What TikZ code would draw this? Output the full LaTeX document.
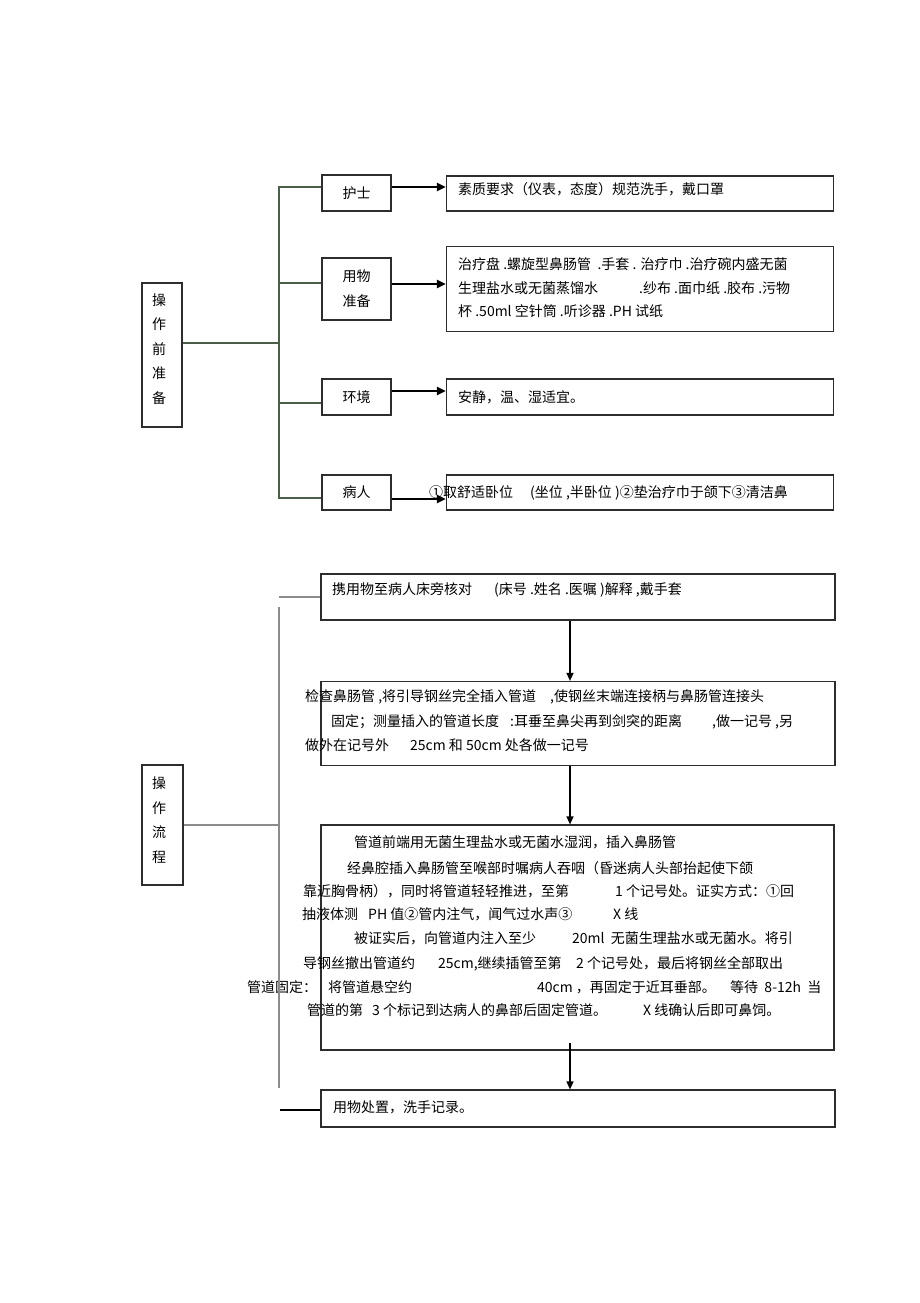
\documentclass[tikz,border=0pt]{standalone}
\usepackage{fontspec}
\setmainfont{Noto Sans CJK SC}
\usetikzlibrary{positioning,arrows.meta}
\definecolor{treeline}{RGB}{74,94,74}
\definecolor{flowline}{RGB}{140,140,140}
\definecolor{frame}{RGB}{45,45,45}

\begin{document}
\begin{tikzpicture}[x=1pt, y=-1pt,
    every node/.style={inner sep=0pt, font=\fontsize{14}{16}\selectfont},
    box/.style={draw=frame, line width=1.2pt},
    ln/.style={anchor=west, text height=11.5pt, text depth=2pt},
    vt/.style={align=center, font=\fontsize{14}{24.5}\selectfont},
    branch/.style={draw=treeline, line width=1.3pt},
    spine/.style={draw=flowline, line width=1.3pt},
    push/.style={-{Triangle[length=9pt, width=8pt]}, line width=2.2pt},
    stem/.style={-{Triangle[length=8pt, width=7pt]}, line width=1.4pt}]
    \useasboundingbox (0,0) rectangle (920,1303);

    % ---- 操作前准备 ----
    \node [box, minimum width=40pt, minimum height=144pt] (prep) at (162,355) {};
    \node [vt] (preptxt) at (159,349) {操\\作\\前\\准\\备};

    \node [box, minimum width=69pt, minimum height=36pt] (nurse) at (356.5,193) {护士};
    \node [box, minimum width=69pt, minimum height=62pt, vt, font=\fontsize{14}{25}\selectfont] (gear) at (356.5,289) {用物\\准备};
    \node [box, minimum width=69pt, minimum height=36pt] (env) at (356.5,397) {环境};
    \node [box, minimum width=69pt, minimum height=35pt] (patient) at (356.5,492.5) {病人};

    \node [box, minimum width=387pt, minimum height=35pt] (r1) at (640,193.5) {};
    \node [box, minimum width=387pt, minimum height=85pt] (r2) at (640,289) {};
    \node [box, minimum width=387pt, minimum height=36pt] (r3) at (640,397) {};
    \node [box, minimum width=387pt, minimum height=35pt] (r4) at (640,492.5) {};

    \node [ln] (r1a) at (458,190) {素质要求（仪表，态度）规范洗手，戴口罩};
    \node [ln] (r2a) at (458,265) {治疗盘 .螺旋型鼻肠管 \ .手套 . 治疗巾 .治疗碗内盛无菌};
    \node [ln] (r2b) at (458,289) {生理盐水或无菌蒸馏水};
    \node [ln] (r2c) at (639,289) {.纱布 .面巾纸 .胶布 .污物};
    \node [ln] (r2d) at (458,312) {杯 .50ml 空针筒 .听诊器 .PH 试纸};
    \node [ln] (r3a) at (458,398) {安静，温、湿适宜。};
    \node [ln] (r4a) at (429,493) {①取舒适卧位};
    \node [ln] (r4b) at (530,493) {(坐位 ,半卧位 )②垫治疗巾于颌下③清洁鼻};

    \coordinate (hub) at (279,343);
    \draw [branch] (prep.east |- hub) -- (hub);
    \draw [branch] ([yshift=6pt]nurse.west) -| ([yshift=-5.5pt]patient.west -| hub) -- ([yshift=-5.5pt]patient.west);
    \draw [branch] ([yshift=6pt]gear.west) -- ([yshift=6pt]gear.west -| hub);
    \draw [branch] ([yshift=-6pt]env.west) -- ([yshift=-6pt]env.west -| hub);

    \draw [push] ([yshift=6pt]nurse.east) -- ([yshift=6pt]nurse.east -| r1.west);
    \draw [push] ([yshift=5pt]gear.east) -- ([yshift=5pt]gear.east -| r2.west);
    \draw [push] ([yshift=6pt]env.east) -- ([yshift=6pt]env.east -| r3.west);
    \draw [push] ([yshift=-6.5pt]patient.east) -- ([yshift=-6.5pt]patient.east -| r4.west);

    % ---- 操作流程 ----
    \node [box, minimum width=41pt, minimum height=120pt] (proc) at (162.5,825) {};
    \node [vt] (proctxt) at (159,820) {操\\作\\流\\程};

    \node [box, minimum width=514pt, minimum height=46pt] (s1) at (578,597) {};
    \node [box, minimum width=514pt, minimum height=84pt] (s2) at (578,723.5) {};
    \node [box, minimum width=513pt, minimum height=225pt] (s3) at (577.5,937.5) {};
    \node [box, minimum width=514pt, minimum height=37pt] (s4) at (578,1108.5) {};

    \node [ln] (s1a) at (332,590) {携用物至病人床旁核对};
    \node [ln] (s1b) at (494,590) {(床号 .姓名 .医嘱 )解释 ,戴手套};

    \node [ln] (s2a) at (305,697) {检查鼻肠管 ,将引导钢丝完全插入管道};
    \node [ln] (s2b) at (550,697) {,使钢丝末端连接柄与鼻肠管连接头};
    \node [ln] (s2c) at (331,722) {固定；测量插入的管道长度};
    \node [ln] (s2d) at (510,722) {:耳垂至鼻尖再到剑突的距离};
    \node [ln] (s2e) at (712,722) {,做一记号 ,另};
    \node [ln] (s2f) at (305,746) {做外在记号外};
    \node [ln] (s2g) at (410,746) {25cm 和 50cm 处各做一记号};

    \node [ln] (s3a) at (354,843) {管道前端用无菌生理盐水或无菌水湿润，插入鼻肠管};
    \node [ln] (s3b) at (347,869) {经鼻腔插入鼻肠管至喉部时嘱病人吞咽（昏迷病人头部抬起使下颌};
    \node [ln] (s3c) at (303,892) {靠近胸骨柄），同时将管道轻轻推进，至第};
    \node [ln] (s3d) at (615,892) {1 个记号处。证实方式：①回};
    \node [ln] (s3e) at (302,915) {抽液体测};
    \node [ln] (s3f) at (368,915) {PH 值②管内注气，闻气过水声③};
    \node [ln] (s3g) at (613,915) {X 线};
    \node [ln] (s3h) at (354,939) {被证实后，向管道内注入至少};
    \node [ln] (s3i) at (572,939) {20ml \ 无菌生理盐水或无菌水。将引};
    \node [ln] (s3j) at (303,964) {导钢丝撤出管道约};
    \node [ln] (s3k) at (438,964) {25cm,继续插管至第};
    \node [ln] (s3l) at (576,964) {2 个记号处，最后将钢丝全部取出};
    \node [ln] (s3m) at (247,988) {管道固定：};
    \node [ln] (s3n) at (328,988) {将管道悬空约};
    \node [ln] (s3o) at (537,988) {40cm ，再固定于近耳垂部。};
    \node [ln] (s3p) at (730,988) {等待 \ 8-12h \ 当};
    \node [ln] (s3q) at (307,1011) {管道的第};
    \node [ln] (s3r) at (372,1011) {3 个标记到达病人的鼻部后固定管道。};
    \node [ln] (s3s) at (643,1011) {X 线确认后即可鼻饲。};

    \node [ln] (s4a) at (333,1108) {用物处置，洗手记录。};

    \coordinate (spinetop) at (279,607);
    \coordinate (spinebot) at (279,1088);
    \coordinate (mid) at (570,0);
    \coordinate (tail) at (280,1110);
    \draw [spine] (proc.east) -- (proc.east -| spinetop);
    \draw [spine] (s1.west) -- (s1.west -| spinetop);
    \draw [spine] (spinetop) -- (spinebot);
    \draw [line width=1.3pt] (tail) -- (tail -| s4.west);

    \draw [stem] (s1.south -| mid) -- (s2.north -| mid);
    \draw [stem] (s2.south -| mid) -- (s3.north -| mid);
    \draw [stem] ([yshift=8pt]s3.south -| mid) -- (s4.north -| mid);
\end{tikzpicture}
\end{document}
